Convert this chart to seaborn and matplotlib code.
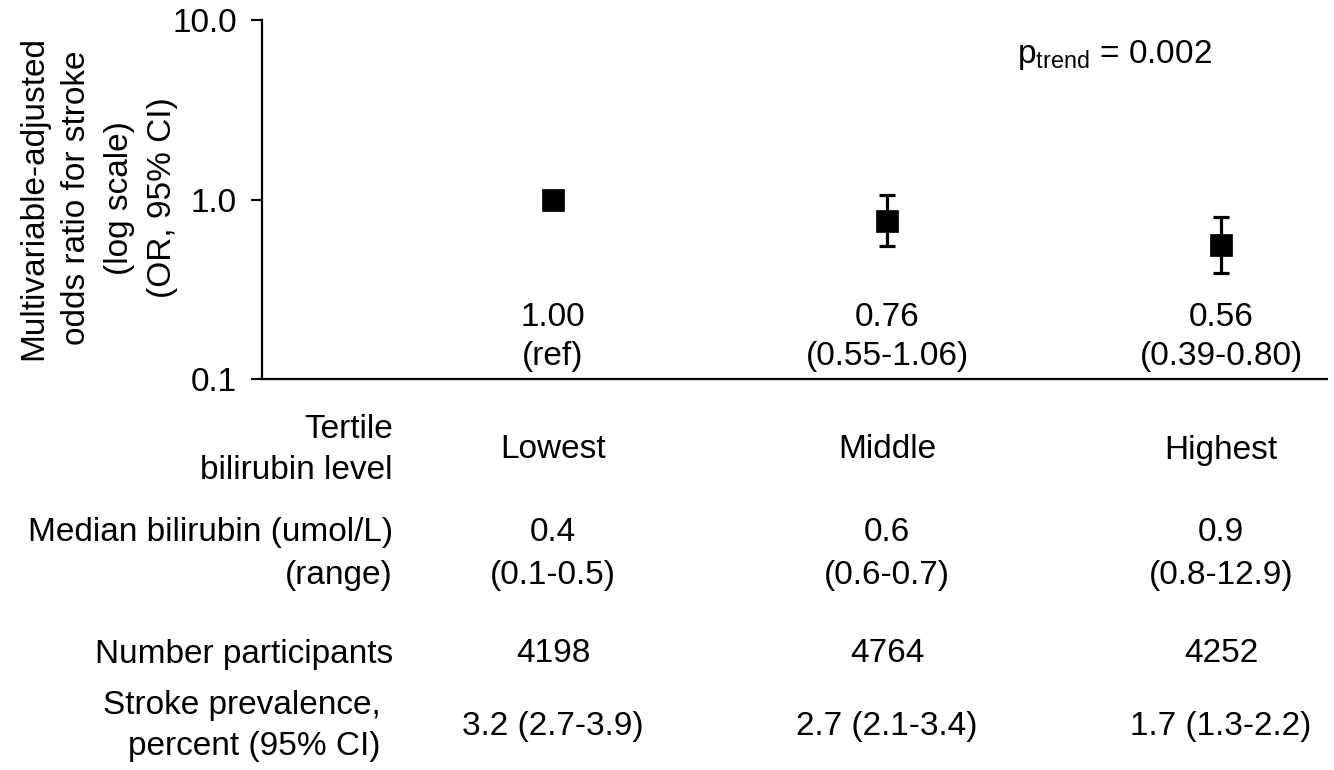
import numpy as np
import pandas as pd
import matplotlib
matplotlib.use("Agg")
import matplotlib.pyplot as plt
import matplotlib.transforms as mtransforms
import seaborn as sns

# Odds ratios for stroke by tertile of bilirubin
tertiles = ["Lowest", "Middle", "Highest"]
odds_ratio = [1.00, 0.76, 0.56]
ci_low = [1.00, 0.55, 0.39]
ci_high = [1.00, 1.06, 0.80]
is_reference = [True, False, False]

# Table rows under the plot
median_bilirubin = ["0.4", "0.6", "0.9"]
bilirubin_range = ["(0.1-0.5)", "(0.6-0.7)", "(0.8-12.9)"]
participants = ["4198", "4764", "4252"]
prevalence = ["3.2 (2.7-3.9)", "2.7 (2.1-3.4)", "1.7 (1.3-2.2)"]
row_labels = ["Tertile\nbilirubin level",
              "Median bilirubin (umol/L)\n(range)",
              "Number participants",
              "Stroke prevalence,\npercent (95% CI)"]

y_ticks = [0.1, 1.0, 10.0]
y_tick_labels = ["0.1", "1.0", "10.0"]
p_trend = "0.002"

sns.set_theme(style="white")
plt.rcParams["font.family"] = ["Liberation Sans", "DejaVu Sans"]
plt.rcParams["mathtext.fontset"] = "custom"
plt.rcParams["mathtext.rm"] = "Liberation Sans"
plt.rcParams["mathtext.it"] = "Liberation Sans:italic"
plt.rcParams["mathtext.bf"] = "Liberation Sans:bold"

FS = 24
W, H = 1334, 770
fig = plt.figure(figsize=(W / 100, H / 100), dpi=100)
ax = fig.add_axes([262 / W, 1 - 379 / H, (1327 - 262) / W, (379 - 20) / H])

df = pd.DataFrame({
    "pos": np.arange(len(tertiles)),
    "tertile": tertiles,
    "or": odds_ratio,
    "lo": ci_low,
    "hi": ci_high,
    "ref": is_reference,
})

# Confidence intervals (reference group has none)
ci = df[~df["ref"]]
ax.errorbar(ci["pos"], ci["or"],
            yerr=[ci["or"] - ci["lo"], ci["hi"] - ci["or"]],
            fmt="none", ecolor="black", elinewidth=2.3,
            capsize=6, capthick=2.3, zorder=2)

sns.scatterplot(data=df, x="pos", y="or", marker="s", s=250,
                color="black", edgecolor="black", linewidth=0.5,
                zorder=3, ax=ax, legend=False)

ax.set_yscale("log")
ax.set_ylim(0.1, 10.0)
ax.set_xlim(-0.871, 2.317)
ax.set_yticks(y_ticks)
ax.set_yticklabels(y_tick_labels, fontsize=FS)
ax.yaxis.set_minor_locator(matplotlib.ticker.NullLocator())
ax.set_xticks([])
ax.set_xlabel("")
ax.tick_params(axis="y", which="major", direction="out", length=8,
               width=1.5, color="black", pad=10, labelcolor="black", left=True)

for side in ["top", "right"]:
    ax.spines[side].set_visible(False)
for side in ["left", "bottom"]:
    ax.spines[side].set_color("black")
    ax.spines[side].set_linewidth(1.6)

ax.set_ylabel("Multivariable-adjusted\nodds ratio for stroke\n(log scale)\n(OR, 95% CI)",
              fontsize=FS, color="black", linespacing=1.5)
ax.yaxis.set_label_coords(-0.079, 0.505)

ax.text(0.709, 0.9025, r"p$_{\mathrm{trend}}$ = " + p_trend,
        transform=ax.transAxes, fontsize=FS, ha="left", va="center",
        color="black")

# Odds ratio labels beneath each marker
xfig = mtransforms.blended_transform_factory(ax.transData, fig.transFigure)
for _, r in df.iterrows():
    if r["ref"]:
        label = f"{r['or']:.2f}\n(ref)"
    else:
        label = f"{r['or']:.2f}\n({r['lo']:.2f}-{r['hi']:.2f})"
    ax.text(r["pos"], 1 - 337 / H, label, transform=xfig, fontsize=FS,
            ha="center", va="center", color="black", clip_on=False,
            linespacing=1.3)

# Table beneath the axis
row_y = [1 - 450 / H, 1 - 554 / H, 1 - 654 / H, 1 - 726 / H]
row_x = [393, 393, 393, 381]
row_spacing = [1.4, 1.5, 1.4, 1.4]
for lab, y, x, ls in zip(row_labels, row_y, row_x, row_spacing):
    fig.text(x / W, y, lab, fontsize=FS, ha="right", va="center",
             multialignment="right", color="black", linespacing=ls)

row_values = [
    tertiles,
    [f"{m}\n{rg}" for m, rg in zip(median_bilirubin, bilirubin_range)],
    participants,
    prevalence,
]
for vals, y, ls in zip(row_values, row_y, row_spacing):
    for pos, v in zip(df["pos"], vals):
        ax.text(pos, y, v, transform=xfig, fontsize=FS, ha="center",
                va="center", color="black", clip_on=False, linespacing=ls)

fig.savefig("out.png", dpi=100, facecolor="white")
